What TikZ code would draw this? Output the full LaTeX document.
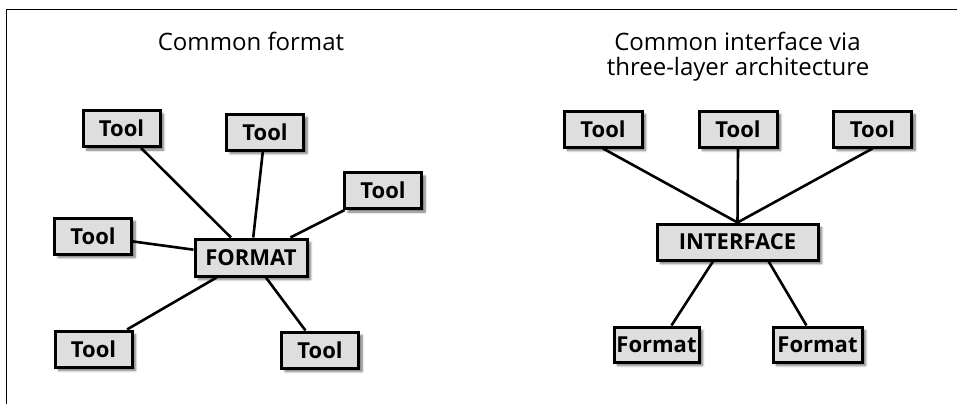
\documentclass[tikz,border=0pt]{standalone}
\usepackage{fontspec}
\setmainfont{Open Sans}
\usetikzlibrary{shadows.blur,calc}
\definecolor{boxfill}{HTML}{DEDEDE}
\tikzset{
  box/.style={draw=black, line width=3pt, fill=boxfill, rectangle, inner sep=0pt,
    minimum height=36pt, font=\bfseries\fontsize{22}{25}\selectfont,
    blur shadow={shadow xshift=3.5pt, shadow yshift=-3.5pt, shadow blur steps=7, shadow opacity=55}},
  link/.style={line width=2.6pt, black},
  ttl/.style={font=\fontsize{24}{27}\selectfont, align=center, inner sep=0pt}
}
\begin{document}
\begin{tikzpicture}[x=1pt,y=-1pt]
\useasboundingbox (0,0) rectangle (957,404);
\draw[line width=1.4pt] (6.5,404) -- (6.5,9.5) -- (957,9.5);
% titles
\node[ttl, anchor=base] (tl) at (251,51) {Common format};
\node[ttl, anchor=base] (tr1) at (737.5,50) {Common interface via};
\node[ttl, anchor=base] (tr2) at (738,75.5) {three-layer architecture};
% left nodes
\node[box, minimum width=77pt] (tA) at (121.5,128.5) {Tool};
\node[box, minimum width=77pt] (tB) at (265,132) {Tool};
\node[box, minimum width=77pt] (tC) at (383,190.5) {Tool};
\node[box, minimum width=77pt] (tD) at (93,236) {Tool};
\node[box, minimum width=112pt, minimum height=37pt] (fmt) at (251,257.5) {FORMAT};
\node[box, minimum width=77pt] (tE) at (93.5,349) {Tool};
\node[box, minimum width=77pt] (tF) at (320,350) {Tool};
% right nodes
\node[box, minimum width=78pt] (r1) at (603,129) {Tool};
\node[box, minimum width=78pt] (r2) at (738,129) {Tool};
\node[box, minimum width=78pt] (r3) at (872.5,129) {Tool};
\node[box, minimum width=161pt] (iface) at (737.5,242) {INTERFACE};
\node[box, minimum width=85pt, minimum height=35pt] (f1) at (656.5,344.5) {Format};
\node[box, minimum width=89pt, minimum height=35pt] (f2) at (817.5,344.5) {Format};
% connectors
\draw[link] (tA) -- (fmt);
\draw[link] (tB) -- (fmt);
\draw[link] (tC) -- (fmt);
\draw[link] (tD) -- (fmt);
\draw[link] (tE) -- (fmt);
\draw[link] (tF) -- (fmt);
\draw[link] (r1.south) -- (iface.north);
\draw[link] (r2.south) -- (iface.north);
\draw[link] (r3.south) -- (iface.north);
\draw[link] ($(iface.south west)!0.35!(iface.south east)$) -- ($(f1.north west)!0.67!(f1.north east)$);
\draw[link] ($(iface.south west)!0.69!(iface.south east)$) -- ($(f2.north west)!0.38!(f2.north east)$);
\end{tikzpicture}
\end{document}
